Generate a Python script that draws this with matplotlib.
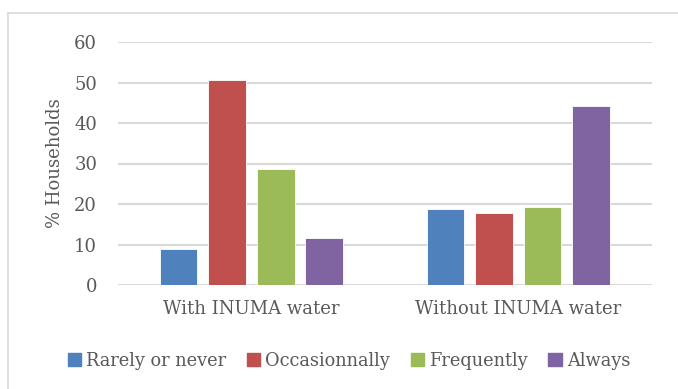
import matplotlib
matplotlib.use("Agg")
import matplotlib.pyplot as plt
from matplotlib.patches import Rectangle
from matplotlib.lines import Line2D
import numpy as np

groups = ["With INUMA water", "Without INUMA water"]
series = ["Rarely or never", "Occasionnally", "Frequently", "Always"]
rarely = [8.8, 18.7]
occasionally = [50.6, 17.7]
frequently = [28.6, 19.3]
always = [11.6, 44.2]
colors = ["#4F81BD", "#C0504D", "#9BBB59", "#8064A2"]

plt.rcParams["font.family"] = ["DejaVu Serif"]
txt = "#595959"

fig = plt.figure(figsize=(6.78, 3.89), dpi=100)
ax = fig.add_axes([118 / 678, 1 - 285 / 389, (651.7 - 118) / 678, (285 - 42) / 389])

x = np.arange(len(groups))
slot = 0.182
width = 0.141
for i, (vals, name) in enumerate(zip([rarely, occasionally, frequently, always], series)):
    ax.bar(x + (i - 1.5) * slot, vals, width, color=colors[i], label=name,
           edgecolor="white", linewidth=0.6, zorder=3)

ax.set_xlim(-0.5, 1.5)
ax.set_ylim(0, 60)
ax.set_yticks(range(0, 61, 10))
ax.grid(axis="y", color="#D9D9D9", linewidth=1.5, zorder=0)
for s in ax.spines.values():
    s.set_visible(False)
ax.tick_params(length=0)
ax.tick_params(axis="y", labelsize=13, labelcolor=txt, pad=15)
ax.tick_params(axis="x", labelsize=13, labelcolor=txt, pad=11)
ax.set_xticks(x)
ax.set_xticklabels(groups)
ax.set_ylabel("% Households", fontsize=13, color=txt, labelpad=7)

handles = [Rectangle((0, 0), 1, 1, color=c) for c in colors]
fig.legend(handles, series, loc="center", bbox_to_anchor=(349 / 678, 1 - 361 / 389),
           ncol=4, frameon=False, fontsize=12.8, labelcolor=txt,
           handlelength=0.75, handleheight=0.75, handletextpad=0.3, columnspacing=1.15)

# outer chart border
fig.add_artist(Line2D([8 / 678, 8 / 678], [0, 1 - 13 / 389], color="#D9D9D9", lw=1.2))
fig.add_artist(Line2D([8 / 678, 1], [1 - 13 / 389, 1 - 13 / 389], color="#D9D9D9", lw=1.2))

fig.savefig("out.png", dpi=100)
